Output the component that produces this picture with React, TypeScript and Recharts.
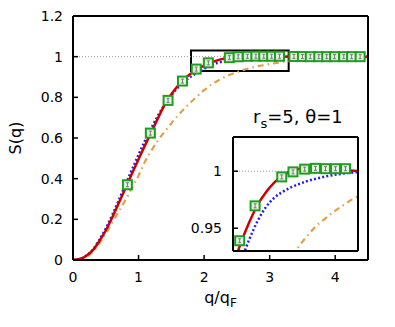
import { CartesianGrid, ComposedChart, Label, Line, ReferenceArea, ReferenceLine, Scatter, XAxis, YAxis } from "recharts";

// momentum grid q/q_F shared by the three curves
const qGrid = [
  0, 0.1, 0.2, 0.3, 0.4, 0.5, 0.6, 0.7, 0.8, 0.9, 1.0, 1.1, 1.2, 1.3, 1.4, 1.5, 1.6, 1.7, 1.8, 1.9,
  2.0, 2.1, 2.2, 2.3, 2.4, 2.5, 2.6, 2.7, 2.8, 2.9, 3.0, 3.1, 3.2, 3.3, 3.4, 3.6, 3.8, 4.0, 4.25, 4.5,
];

// red solid curve
const redCurve = [
  0, 0.005, 0.02, 0.047, 0.092, 0.145, 0.21, 0.282, 0.353, 0.425, 0.495, 0.565, 0.632, 0.7, 0.764, 0.815, 0.857, 0.891, 0.917, 0.938,
  0.956, 0.971, 0.982, 0.9905, 0.9963, 1.0002, 1.0022, 1.0031, 1.0032, 1.0028, 1.002, 1.0013, 1.0006, 1.0002, 1.0, 0.9998, 0.9999, 1.0, 1.0, 1.0,
];

// blue dotted curve
const blueCurve = [
  0, 0.005, 0.021, 0.05, 0.098, 0.155, 0.222, 0.295, 0.37, 0.445, 0.518, 0.588, 0.652, 0.712, 0.765, 0.81, 0.848, 0.878, 0.902, 0.922,
  0.941, 0.957, 0.969, 0.977, 0.982, 0.986, 0.989, 0.9915, 0.9935, 0.9952, 0.9966, 0.9977, 0.9986, 0.9992, 0.9996, 0.9999, 1.0, 1.0, 1.0, 1.0,
];

// orange dash-dot curve
const orangeCurve = [
  0, 0.003, 0.015, 0.04, 0.08, 0.13, 0.185, 0.24, 0.295, 0.355, 0.415, 0.485, 0.54, 0.59, 0.632, 0.672, 0.71, 0.745, 0.777, 0.807,
  0.835, 0.86, 0.88, 0.898, 0.912, 0.924, 0.935, 0.944, 0.952, 0.958, 0.964, 0.969, 0.974, 0.978, 0.982, 0.987, 0.991, 0.994, 0.996, 0.998,
];

// green squares
const squareQ = [0.83, 1.18, 1.45, 1.67, 1.88, 2.065, 2.385, 2.52, 2.66, 2.79, 2.91, 3.03, 3.15, 3.37, 3.5, 3.62, 3.75, 3.87, 3.99, 4.13, 4.25, 4.38];
const squareS = [0.37, 0.624, 0.785, 0.88, 0.939, 0.9696, 0.995, 0.9994, 1.0018, 1.0025, 1.0022, 1.0022, 1.0022, 1.001, 1.0005, 1.0, 1.0, 1.0, 1.0, 1.0, 1.0, 1.0];

const mainXTicks = [0, 1, 2, 3, 4];
const mainYTicks = [0, 0.2, 0.4, 0.6, 0.8, 1, 1.2];
const insetYTicks = [0.95, 1];

const toPoints = (ys: number[]) => qGrid.map((q, i) => ({ q, s: ys[i] }));
const redPts = toPoints(redCurve);
const bluePts = toPoints(blueCurve);
const orangePts = toPoints(orangeCurve);
const squarePts = squareQ.map((q, i) => ({ q, s: squareS[i] }));

const font = "'DejaVu Sans', sans-serif";
const tickStyle = { fill: "#000", fontSize: 14, fontFamily: font };

function SquareMark(props: any) {
  const { cx, cy } = props;
  if (cx == null || cy == null) return null;
  return (
    <g>
      <rect x={cx - 4.5} y={cy - 4.5} width={9} height={9} fill="#e4f3e4" stroke="#1e9e1e" strokeWidth={2} />
      <path d={`M${cx - 1.5},${cy - 2}h3M${cx},${cy - 2}v4M${cx - 1.5},${cy + 2}h3`} stroke="#777" strokeWidth={1} fill="none" />
    </g>
  );
}

function XTitle({ viewBox }: any) {
  const cx = viewBox.x + viewBox.width / 2;
  return (
    <text x={cx} y={viewBox.y + 43} textAnchor="middle" fontSize={16} fontFamily={font} fill="#000">
      q/q<tspan fontSize={12} dy={4}>F</tspan>
    </text>
  );
}

function YTitle({ viewBox }: any) {
  const cy = viewBox.y + viewBox.height / 2;
  return (
    <text x={21} y={cy} textAnchor="middle" fontSize={16} fontFamily={font} fill="#000" transform={`rotate(-90, 21, ${cy})`}>
      S(q)
    </text>
  );
}

export default function App() {
  const axisLine = { stroke: "#000", strokeWidth: 2 };
  const tickLine = { stroke: "#000", strokeWidth: 1.5 };
  return (
    <div style={{ position: "absolute", left: 0, top: 0, width: 395, height: 327, background: "#fff" }}>
      <ComposedChart width={395} height={327} margin={{ top: 6, right: 17, bottom: 37, left: 0 }}>
        <XAxis xAxisId="b" dataKey="q" type="number" domain={[0, 4.5]} ticks={mainXTicks} allowDataOverflow
          height={30} tickSize={-5} tickMargin={17} tick={tickStyle} axisLine={axisLine} tickLine={tickLine}>
          <Label content={XTitle} />
        </XAxis>
        <XAxis xAxisId="t" orientation="top" dataKey="q" type="number" domain={[0, 4.5]} ticks={mainXTicks} allowDataOverflow
          height={10} tickSize={-5} tick={false} axisLine={axisLine} tickLine={tickLine} />
        <YAxis yAxisId="l" type="number" domain={[0, 1.2]} ticks={mainYTicks} allowDataOverflow
          width={73} tickSize={-5} tickMargin={15} tick={tickStyle} axisLine={axisLine} tickLine={tickLine}>
          <Label content={YTitle} />
        </YAxis>
        <YAxis yAxisId="r" orientation="right" type="number" domain={[0, 1.2]} ticks={mainYTicks} allowDataOverflow
          width={10} tickSize={-5} tick={false} axisLine={axisLine} tickLine={tickLine} />
        <ReferenceLine xAxisId="b" yAxisId="l" y={1} stroke="#999" strokeDasharray="1 2" strokeWidth={1} />
        <Scatter xAxisId="b" yAxisId="l" data={squarePts} dataKey="s" shape={SquareMark} isAnimationActive={false} />
        <Line xAxisId="b" yAxisId="l" data={orangePts} dataKey="s" type="monotone" stroke="#e0a04a" strokeWidth={2.2}
          strokeDasharray="6 4 1.5 4" dot={false} isAnimationActive={false} />
        <Line xAxisId="b" yAxisId="l" data={bluePts} dataKey="s" type="monotone" stroke="#2020ee" strokeWidth={2.5}
          strokeDasharray="2 2.2" dot={false} isAnimationActive={false} />
        <Line xAxisId="b" yAxisId="l" data={redPts} dataKey="s" type="monotone" stroke="#cc0000" strokeWidth={2.5}
          dot={false} isAnimationActive={false} />
        <ReferenceArea xAxisId="b" yAxisId="l" x1={1.8} x2={3.29} y1={0.93} y2={1.03} fill="none" fillOpacity={0}
          stroke="#000" strokeWidth={2} />
      </ComposedChart>

      <svg width={395} height={327} style={{ position: "absolute", left: 0, top: 0, pointerEvents: "none" }}>
        <text x={253} y={123} fontSize={18} fontFamily={font} fill="#000">
          r<tspan fontSize={13} dy={5}>s</tspan><tspan dy={-5}>=5, θ=1</tspan>
        </text>
      </svg>

      <div style={{ position: "absolute", left: 183, top: 131 }}>
        <ComposedChart width={180} height={126} margin={{ top: 0, right: 0, bottom: 0, left: 0 }}>
          <CartesianGrid xAxisId="b" yAxisId="l" fill="#fff" horizontal={false} vertical={false} />
          <XAxis xAxisId="b" dataKey="q" type="number" domain={[1.8, 3.3]} allowDataOverflow
            height={6} tick={false} tickLine={false} axisLine={axisLine} />
          <XAxis xAxisId="t" orientation="top" dataKey="q" type="number" domain={[1.8, 3.3]} allowDataOverflow
            height={6} tick={false} tickLine={false} axisLine={axisLine} />
          <YAxis yAxisId="l" type="number" domain={[0.93, 1.03]} ticks={insetYTicks} allowDataOverflow
            width={50} tickSize={-5} tickMargin={16} tick={tickStyle} axisLine={axisLine} tickLine={tickLine} />
          <YAxis yAxisId="r" orientation="right" type="number" domain={[0.93, 1.03]} ticks={insetYTicks} allowDataOverflow
            width={5} tickSize={-5} tick={false} axisLine={axisLine} tickLine={tickLine} />
          <ReferenceLine xAxisId="b" yAxisId="l" y={1} stroke="#999" strokeDasharray="1 2" strokeWidth={1} />
          <Scatter xAxisId="b" yAxisId="l" data={squarePts} dataKey="s" shape={SquareMark} isAnimationActive={false} />
          <Line xAxisId="b" yAxisId="l" data={orangePts} dataKey="s" type="monotone" stroke="#e0a04a" strokeWidth={2.2}
            strokeDasharray="6 4 1.5 4" dot={false} isAnimationActive={false} />
          <Line xAxisId="b" yAxisId="l" data={bluePts} dataKey="s" type="monotone" stroke="#2020ee" strokeWidth={2.5}
            strokeDasharray="2 2.2" dot={false} isAnimationActive={false} />
          <Line xAxisId="b" yAxisId="l" data={redPts} dataKey="s" type="monotone" stroke="#cc0000" strokeWidth={2.5}
            dot={false} isAnimationActive={false} />
        </ComposedChart>
      </div>
    </div>
  );
}
